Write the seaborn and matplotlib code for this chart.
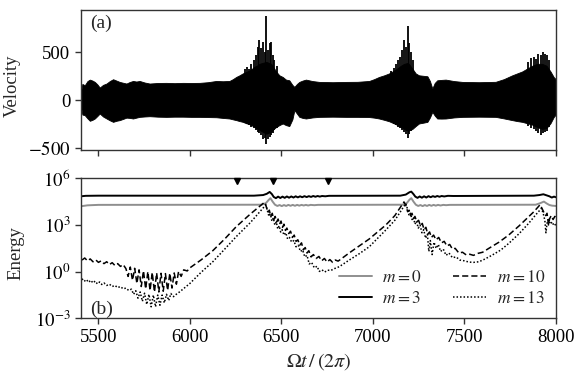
import numpy as np
import pandas as pd
import matplotlib
matplotlib.use("Agg")
import matplotlib.pyplot as plt
import seaborn as sns

# ---------------- data ----------------
# Panel (a): velocity envelope
vel_t = [5404, 5412, 5425, 5440, 5453, 5467, 5480, 5494, 5507, 5525, 5544, 5562, 5580,
         5598, 5616, 5635, 5653, 5671, 5689, 5707, 5725, 5752, 5780, 5825, 5871, 5916,
         5961, 6007, 6053, 6098, 6144, 6180, 6216, 6235, 6253, 6271, 6289, 6307, 6325,
         6340, 6353, 6366, 6380, 6398, 6418, 6444, 6458, 6471, 6489, 6507, 6525, 6543,
         6560, 6571, 6585, 6598, 6616, 6634, 6670, 6707, 6780, 6853, 6916, 6980, 7007,
         7034, 7062, 7089, 7107, 7125, 7140, 7153, 7171, 7192, 7216, 7234, 7252, 7275,
         7298, 7312, 7325, 7338, 7352, 7375, 7398, 7443, 7489, 7580, 7671, 7716, 7762,
         7789, 7816, 7843, 7871, 7898, 7925, 7949, 7971, 7989, 8000]
vel_hi = [80, 170, 156, 200, 215, 205, 191, 165, 132, 160, 174, 200, 219,
          205, 191, 182, 174, 190, 201, 195, 201, 185, 174, 180, 181, 178,
          181, 180, 181, 188, 201, 198, 201, 220, 243, 260, 280, 295, 310,
          330, 350, 360, 380, 390, 400, 380, 340, 300, 260, 243, 215, 208,
          160, 139, 170, 191, 205, 215, 200, 191, 188, 191, 192, 201, 220,
          243, 260, 280, 300, 320, 340, 360, 380, 390, 330, 280, 260, 255,
          250, 200, 122, 180, 208, 212, 215, 200, 191, 188, 192, 220, 260,
          280, 300, 330, 360, 380, 380, 360, 300, 240, 220]
vel_lo = [-60, -150, -156, -190, -215, -205, -191, -165, -139, -170, -191, -210, -226,
          -215, -208, -195, -182, -185, -191, -182, -174, -170, -167, -172, -174, -172,
          -172, -174, -174, -176, -178, -185, -191, -200, -208, -218, -226, -240, -250,
          -265, -280, -295, -310, -330, -350, -330, -300, -280, -260, -243, -260, -270,
          -200, -104, -140, -174, -185, -191, -180, -174, -172, -174, -174, -176, -182,
          -191, -205, -220, -235, -250, -265, -280, -300, -320, -300, -270, -243, -235,
          -226, -180, -122, -160, -191, -192, -191, -180, -174, -172, -174, -190, -208,
          -218, -226, -240, -255, -280, -300, -290, -240, -174, -150]
# individual tall oscillation peaks
spike_t = [6300, 6312, 6322, 6335, 6348, 6360, 6372, 6380, 6390, 6400, 6410, 6418, 6428,
           6436, 6444, 6452, 6462, 6475,
           7100, 7115, 7128, 7140, 7150, 7160, 7170, 7180, 7192, 7200, 7210, 7220,
           7850, 7865, 7880, 7892, 7905, 7918, 7930, 7940, 7952, 7962]
spike_hi = [330, 350, 330, 380, 420, 470, 560, 625, 540, 608, 500, 878, 520,
            600, 608, 470, 420, 360,
            310, 340, 380, 420, 450, 520, 625, 560, 771, 600, 500, 420,
            400, 440, 451, 430, 480, 470, 500, 486, 470, 420]
spike_lo = [-240, -250, -260, -280, -290, -310, -330, -340, -360, -400, -390, -458, -410,
            -380, -365, -340, -310, -290,
            -230, -245, -260, -280, -290, -310, -330, -350, -399, -350, -320, -290,
            -270, -290, -300, -320, -340, -365, -340, -330, -320, -280]

# Panel (b): energies, stored as log10(E)
m0_t = [5404, 5440, 5500, 6390, 6415, 6430, 6440, 6452, 6465, 6478, 6490, 6502, 6514, 6526,
        6538, 6550, 6562, 6574, 6586, 6598, 6610, 6622, 6634, 6646, 6660, 6680, 6700, 7160,
        7185, 7200, 7210, 7222, 7235, 7248, 7260, 7272, 7284, 7296, 7308, 7320, 7332, 7344,
        7356, 7370, 7385, 7400, 7420, 7890, 7915, 7935, 7950, 7965, 7980, 8000]
m0_log = [4.20, 4.26, 4.29, 4.30, 4.40, 4.60, 4.72, 4.50, 4.30, 4.22, 4.28, 4.21, 4.28, 4.22,
          4.29, 4.23, 4.29, 4.23, 4.29, 4.24, 4.29, 4.25, 4.29, 4.25, 4.29, 4.27, 4.29, 4.30,
          4.40, 4.62, 4.72, 4.50, 4.30, 4.22, 4.28, 4.21, 4.28, 4.22, 4.29, 4.23, 4.29, 4.24,
          4.29, 4.25, 4.29, 4.27, 4.29, 4.30, 4.40, 4.50, 4.38, 4.28, 4.24, 4.22]

m3_t = [5404, 5430, 5500, 6350, 6400, 6420, 6436, 6448, 6458, 6470, 6482, 6494, 6506, 6518,
        6530, 6542, 6554, 6566, 6578, 6590, 6602, 6614, 6626, 6638, 6650, 6662, 6674, 6686,
        6698, 6710, 6722, 6740, 6760, 7150, 7180, 7200, 7210, 7222, 7232, 7244, 7256, 7268,
        7280, 7292, 7304, 7316, 7328, 7340, 7352, 7364, 7376, 7390, 7410, 7440, 7880, 7910,
        7932, 7950, 7965, 7978, 7990, 8000]
m3_log = [4.84, 4.87, 4.88, 4.88, 4.92, 5.00, 5.12, 4.98, 4.80, 4.72, 4.82, 4.73, 4.82, 4.74,
          4.83, 4.75, 4.83, 4.76, 4.84, 4.77, 4.84, 4.78, 4.85, 4.79, 4.85, 4.80, 4.86, 4.81,
          4.86, 4.82, 4.86, 4.84, 4.87, 4.88, 4.95, 5.10, 5.14, 4.98, 4.82, 4.74, 4.83, 4.75,
          4.84, 4.76, 4.85, 4.78, 4.85, 4.80, 4.86, 4.81, 4.86, 4.83, 4.87, 4.86, 4.88, 4.92,
          4.97, 4.90, 4.84, 4.76, 4.82, 4.78]

m10_t = [5410, 5425, 5440, 5455, 5470, 5485, 5500, 5515, 5530, 5545, 5560, 5575, 5590, 5605,
         5620, 5635, 5650, 5662, 5674, 5686, 5698, 5710, 5722, 5734, 5746, 5758, 5770, 5782,
         5794, 5806, 5818, 5830, 5842, 5854, 5866, 5878, 5890, 5902, 5914, 5926, 5938, 5952,
         5966, 5985, 6000, 6060, 6125, 6190, 6253, 6330, 6408, 6418, 6426, 6434, 6442, 6450,
         6458, 6466, 6474, 6482, 6490, 6498, 6506, 6514, 6522, 6530, 6540, 6550, 6560, 6570,
         6580, 6590, 6600, 6610, 6620, 6630, 6640, 6650, 6662, 6675, 6690, 6705, 6720, 6735,
         6750, 6765, 6780, 6795, 6810, 6830, 6870, 6925, 6980, 7071, 7120, 7170, 7182, 7190,
         7198, 7206, 7214, 7222, 7230, 7240, 7250, 7260, 7270, 7280, 7290, 7300, 7310, 7320,
         7332, 7345, 7360, 7375, 7390, 7405, 7420, 7435, 7450, 7470, 7490, 7510, 7530, 7550,
         7575, 7600, 7634, 7690, 7743, 7800, 7852, 7880, 7914, 7925, 7935, 7945, 7952, 7960,
         7966, 7975, 7985, 7995, 8000]
m10_log = [0.75, 0.88, 0.70, 0.82, 0.64, 0.76, 0.60, 0.70, 0.52, 0.64, 0.46, 0.58, 0.40, 0.52,
           0.34, 0.46, 0.20, -0.30, 0.30, -0.55, 0.22, -0.75, 0.12, -0.95, 0.06, -1.10, 0.00, -1.20,
           -0.05, -1.30, -0.08, -1.30, -0.10, -1.25, -0.12, -1.20, -0.10, -1.05, -0.08, -0.80, 0.02, -0.30,
           0.12, 0.05, 0.25, 0.75, 1.35, 2.10, 2.89, 3.70, 4.46, 4.15, 3.80, 3.95, 3.55, 3.75,
           3.35, 3.55, 3.20, 3.38, 3.05, 3.25, 2.85, 3.05, 2.65, 2.80, 2.45, 2.60, 2.20, 2.35,
           1.95, 2.05, 1.70, 1.85, 1.40, 1.55, 1.20, 1.35, 0.95, 1.10, 0.85, 0.98, 0.70, 0.85,
           0.62, 0.78, 0.60, 0.75, 0.68, 0.85, 1.20, 1.65, 2.10, 3.00, 3.60, 4.48, 4.20, 3.85,
           3.95, 3.60, 3.75, 3.40, 3.55, 3.20, 3.30, 2.95, 3.10, 2.70, 2.85, 2.40, 2.55, 2.20,
           2.35, 2.05, 2.20, 1.85, 1.95, 1.65, 1.75, 1.45, 1.50, 1.20, 1.25, 1.08, 1.12, 1.05,
           1.18, 1.25, 1.50, 1.90, 2.36, 2.95, 3.53, 3.85, 4.30, 4.05, 3.80, 3.60, 3.75, 3.00,
           3.40, 3.60, 3.35, 3.55, 3.40]

m13_t = [5410, 5422, 5434, 5446, 5458, 5470, 5482, 5494, 5506, 5518, 5530, 5545, 5560, 5575,
         5590, 5605, 5620, 5635, 5650, 5665, 5680, 5692, 5704, 5716, 5728, 5740, 5752, 5764,
         5776, 5788, 5800, 5812, 5824, 5836, 5848, 5860, 5872, 5884, 5896, 5910, 5925, 5944,
         6000, 6060, 6125, 6190, 6253, 6330, 6415, 6424, 6432, 6440, 6448, 6456, 6464, 6472,
         6480, 6488, 6496, 6504, 6514, 6524, 6534, 6544, 6556, 6568, 6580, 6592, 6604, 6616,
         6628, 6640, 6652, 6665, 6680, 6695, 6707, 6722, 6737, 6752, 6770, 6790, 6816, 6871,
         6925, 6980, 7071, 7120, 7180, 7190, 7198, 7206, 7214, 7222, 7230, 7238, 7248, 7258,
         7268, 7278, 7288, 7298, 7306, 7314, 7324, 7334, 7346, 7358, 7370, 7385, 7400, 7416,
         7435, 7455, 7475, 7500, 7525, 7550, 7580, 7610, 7650, 7700, 7743, 7800, 7852, 7890,
         7922, 7932, 7940, 7946, 7952, 7960, 7970, 7980, 7990, 8000]
m13_log = [-0.45, -0.62, -0.50, -0.68, -0.55, -0.72, -0.60, -0.78, -0.66, -0.82, -0.72, -0.88, -0.80, -0.95,
           -0.88, -1.02, -0.95, -1.10, -1.05, -1.20, -1.12, -1.45, -1.22, -1.70, -1.30, -1.90, -1.38, -2.10,
           -1.45, -2.25, -1.50, -2.25, -1.50, -2.15, -1.50, -2.00, -1.45, -1.85, -1.40, -1.60, -1.45, -1.29,
           -0.75, -0.05, 0.64, 1.45, 2.25, 3.15, 4.29, 3.90, 3.55, 3.70, 3.25, 3.45, 3.00, 3.20,
           2.75, 2.95, 2.55, 2.70, 2.35, 2.50, 2.10, 2.20, 1.90, 2.00, 1.60, 1.70, 1.30, 1.40,
           0.95, 1.05, 0.50, 0.60, 0.25, 0.35, 0.02, 0.12, -0.02, 0.10, 0.08, 0.20, 0.32, 0.75,
           1.15, 1.60, 2.68, 3.30, 4.38, 4.00, 3.60, 3.75, 3.35, 3.50, 3.05, 3.25, 2.80, 3.00,
           2.50, 2.70, 2.15, 2.40, 1.30, 2.00, 1.10, 1.90, 1.50, 1.75, 1.30, 1.45, 1.05, 1.20,
           0.90, 0.95, 0.75, 0.70, 0.62, 0.60, 0.64, 0.80, 1.05, 1.40, 1.82, 2.45, 3.11, 3.65,
           4.07, 3.70, 3.30, 2.50, 3.10, 3.35, 3.05, 3.20, 2.95, 3.05]

marker_t = [6255, 6455, 6755]

x_ticks = [5500, 6000, 6500, 7000, 7500, 8000]
vel_ticks = [-500, 0, 500]
energy_ticks = [1e-3, 1e0, 1e3, 1e6]
energy_ticklabels = ["$10^{-3}$", "$10^{0}$", "$10^{3}$", "$10^{6}$"]

# ---------------- plotting ----------------
sns.set_style("ticks")
plt.rcParams["font.family"] = ["Liberation Serif", "DejaVu Serif"]
plt.rcParams["mathtext.fontset"] = "stix"
plt.rcParams["axes.edgecolor"] = "#333333"
plt.rcParams["axes.linewidth"] = 1.0
plt.rcParams["xtick.color"] = "#333333"
plt.rcParams["ytick.color"] = "#333333"
plt.rcParams["xtick.labelcolor"] = "black"
plt.rcParams["ytick.labelcolor"] = "black"

fig = plt.figure(figsize=(5.82, 3.76), dpi=100)
ax1 = fig.add_axes([0.139, 0.601, 0.816, 0.372])
ax2 = fig.add_axes([0.139, 0.153, 0.816, 0.373])

# Panel (a)
ax1.fill_between(vel_t, vel_lo, vel_hi, color="black", linewidth=0.6, edgecolor="black")
ax1.vlines(spike_t, spike_lo, spike_hi, color="black", linewidth=1.3)
ax1.set_xlim(5404, 8000)
ax1.set_ylim(-520, 940)
ax1.set_xticks(x_ticks)
ax1.set_xticklabels([])
ax1.set_yticks(vel_ticks)
ax1.set_yticklabels(["$-500$", "0", "500"])
ax1.set_ylabel("Velocity", fontsize=13.5)
ax1.yaxis.set_label_coords(-0.126, 0.46)
ax1.text(0.02, 0.965, "(a)", transform=ax1.transAxes, fontsize=14, va="top", ha="left")

# Panel (b)
df = pd.concat([
    pd.DataFrame({"t": m0_t, "E": np.power(10.0, m0_log), "mode": "$m = 0$"}),
    pd.DataFrame({"t": m3_t, "E": np.power(10.0, m3_log), "mode": "$m = 3$"}),
    pd.DataFrame({"t": m10_t, "E": np.power(10.0, m10_log), "mode": "$m = 10$"}),
    pd.DataFrame({"t": m13_t, "E": np.power(10.0, m13_log), "mode": "$m = 13$"}),
], ignore_index=True)

styles = {
    "$m = 0$": dict(color="#8f8f8f", linestyle="-", linewidth=1.4),
    "$m = 3$": dict(color="black", linestyle="-", linewidth=1.4),
    "$m = 10$": dict(color="black", linestyle=(0, (4, 2)), linewidth=1.1),
    "$m = 13$": dict(color="black", linestyle=(0, (1, 1.3)), linewidth=1.1),
}
for mode, st in styles.items():
    sub = df[df["mode"] == mode]
    sns.lineplot(data=sub, x="t", y="E", ax=ax2, label=mode, sort=False,
                 estimator=None, **st)

ax2.set_yscale("log")
ax2.set_xlim(5404, 8000)
ax2.set_ylim(1e-3, 1e6)
ax2.set_xticks(x_ticks)
ax2.set_xticklabels([str(v) for v in x_ticks])
ax2.set_yticks(energy_ticks)
ax2.set_yticklabels(energy_ticklabels)
ax2.yaxis.set_minor_locator(matplotlib.ticker.NullLocator())
ax2.plot(marker_t, [10 ** 5.8] * len(marker_t), linestyle="none", marker="v",
         color="black", markersize=5, clip_on=False, zorder=5)
ax2.set_xlabel(r"$\Omega t\,/\,(2\pi)$", fontsize=14.5)
ax2.set_ylabel("Energy", fontsize=13.5)
ax2.yaxis.set_label_coords(-0.118, 0.466)
ax2.text(0.02, 0.0, "(b)", transform=ax2.transAxes, fontsize=14, va="bottom", ha="left")

leg = ax2.legend(ncol=2, loc="lower right", bbox_to_anchor=(1.01, -0.03), frameon=False,
                 fontsize=12.5, handlelength=1.9, columnspacing=1.8, handletextpad=0.6,
                 labelspacing=0.3)

for ax in (ax1, ax2):
    ax.tick_params(axis="both", which="major", labelsize=13.5, length=4, width=1,
                   direction="out")
    for s in ax.spines.values():
        s.set_visible(True)

fig.savefig("out.png", dpi=100)
